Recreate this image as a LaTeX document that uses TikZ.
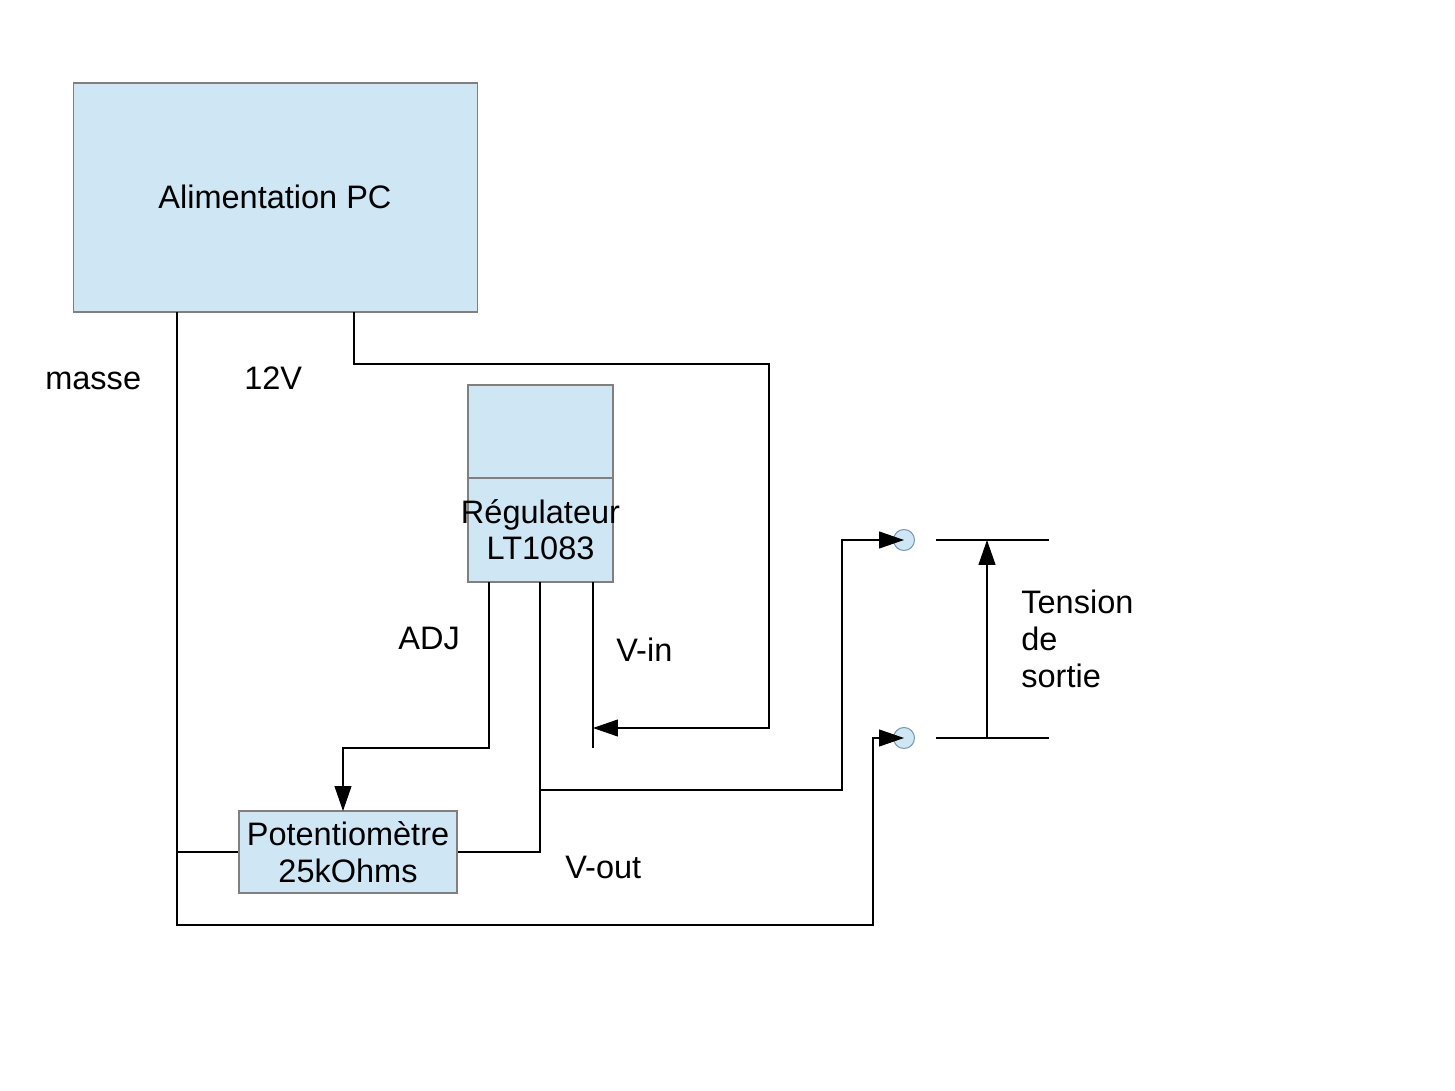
\documentclass[tikz,border=0pt]{standalone}
\usepackage{fontspec}
\setmainfont{Liberation Sans}
\usetikzlibrary{arrows.meta}
\definecolor{boxfill}{HTML}{CFE7F5}
\definecolor{boxline}{HTML}{808080}
\definecolor{termline}{HTML}{7A96B4}
\tikzset{
  blk/.style={draw=boxline, fill=boxfill, line width=0.6pt, inner sep=0pt},
  term/.style={circle, draw=termline, fill=boxfill, line width=0.6pt, minimum size=0.42cm, inner sep=0pt},
  wire/.style={draw=black, line width=0.6pt},
  arr/.style={wire, -{Triangle[length=0.5cm,width=0.34cm]}},
  txt/.style={inner sep=0pt, font=\fontsize{18.5pt}{21pt}\selectfont},
}
\begin{document}
\begin{tikzpicture}[x=0.02cm,y=-0.02cm]
\useasboundingbox (0,0) rectangle (1455,1091);
% blocks
\node[blk, minimum width=8.1cm, minimum height=4.58cm] (alim) at (275.5,197.5) {};
\node[txt, anchor=base] (alimtxt) at (275,209) {Alimentation PC};
\node[blk, minimum width=2.9cm, minimum height=3.94cm] (reg) at (540.5,483.5) {};
\draw[draw=boxline, line width=0.6pt] (468,478) -- (613,478);
\node[txt, anchor=base] (regtxt1) at (540.5,523) {Régulateur};
\node[txt, anchor=base] (regtxt2) at (540.5,560) {LT1083};
\node[blk, minimum width=4.36cm, minimum height=1.64cm, txt, align=center] (pot) at (348,852) {Potentiomètre\\25kOhms};
% terminals
\node[term] (c1) at (904,540) {};
\node[term] (c2) at (904,738) {};
% pin coordinates
\coordinate (gnd) at (177,312);
\coordinate (v12) at (354,312);
\coordinate (padj) at (489,582);
\coordinate (pout) at (540,582);
\coordinate (pin) at (593,582);
\coordinate (pinend) at (593,748);
\coordinate (o1a) at (936,540);
\coordinate (o1b) at (1049,540);
\coordinate (o2a) at (936,738);
\coordinate (o2b) at (1049,738);
\coordinate (va) at (987,738);
\coordinate (vb) at (987,540);
% wires
\draw[arr] (gnd) -- (177,925) -- (873,925) -- (873,738) -- (c2.center);
\draw[wire] (177,852) -- (pot.west);
\draw[arr] (v12) -- (354,364) -- (769,364) -- (769,728) -- (pin |- 0,728);
\draw[wire] (pin) -- (pinend);
\draw[arr] (padj) -- (489,748) -- (343,748) -- (343,811);
\draw[wire] (pout) -- (540,852) -- (pot.east);
\draw[arr] (540,790) -- (842,790) -- (842,540) -- (c1.center);
\draw[wire] (o1a) -- (o1b);
\draw[wire] (o2a) -- (o2b);
\draw[arr] (va) -- (vb);
% labels
\node[txt, anchor=base west] (lmasse) at (45,390) {masse};
\node[txt, anchor=base west] (l12) at (244,390) {12V};
\node[txt, anchor=base west] (ladj) at (398,649) {ADJ};
\node[txt, anchor=base west] (lvin) at (616,661) {V-in};
\node[txt, anchor=base west] (lvout) at (565,878) {V-out};
\node[txt, anchor=base west, align=left] (lts) at (1021,687) {Tension\\de\\sortie};
\end{tikzpicture}
\end{document}
